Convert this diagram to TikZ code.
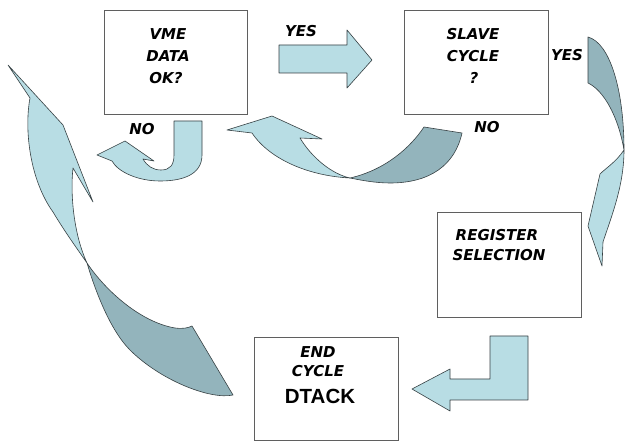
\documentclass[tikz,border=0pt]{standalone}
\usepackage{fontspec}
\newfontfamily\lblfont{DejaVu Sans}
\newfontfamily\dtfont{Liberation Sans}
\definecolor{lightteal}{RGB}{184,221,228}
\definecolor{darkteal}{RGB}{147,180,188}
\definecolor{edgecol}{RGB}{55,65,68}
\definecolor{boxline}{RGB}{95,95,95}
\tikzset{
  flowbox/.style={draw=boxline, line width=0.9pt, fill=white, inner sep=0pt},
  lbl/.style={font=\lblfont\bfseries\itshape\fontsize{15}{18}\selectfont, inner sep=0pt, text=black},
  bigl/.style={font=\dtfont\bfseries\fontsize{20.5}{24}\selectfont, inner sep=0pt, text=black},
  lightarr/.style={fill=lightteal, draw=edgecol, line width=0.6pt, line join=round},
  darkarr/.style={fill=darkteal, draw=edgecol, line width=0.6pt, line join=round}
}
\begin{document}
\begin{tikzpicture}[x=1pt,y=-1pt]
\useasboundingbox (0,0) rectangle (625,441);
\fill[white] (0,0) rectangle (625,441);

% boxes
\node[flowbox, minimum width=143pt, minimum height=104pt] (vme) at (175.5,62) {};
\node[flowbox, minimum width=144pt, minimum height=104pt] (slave) at (476,62) {};
\node[flowbox, minimum width=144pt, minimum height=105pt] (reg) at (509,264.5) {};
\node[flowbox, minimum width=144pt, minimum height=103pt] (endc) at (326,388.5) {};

% box texts
\node[lbl] (vme1) at (168,34) {VME};
\node[lbl] (vme2) at (168,56) {DATA};
\node[lbl] (vme3) at (166,78) {OK?};
\node[lbl] (sl1) at (473,34) {SLAVE};
\node[lbl] (sl2) at (473,56) {CYCLE};
\node[lbl] (sl3) at (474,78) {?};
\node[lbl] (rg1) at (497,235) {REGISTER};
\node[lbl] (rg2) at (499,255) {SELECTION};
\node[lbl] (ec1) at (318,352) {END};
\node[lbl] (ec2) at (318,371) {CYCLE};
\node[bigl] (ec3) at (320,396) {DTACK};

% branch labels
\node[lbl] (yes1) at (301,31) {YES};
\node[lbl] (yes2) at (567,55) {YES};
\node[lbl] (no1) at (487,127) {NO};
\node[lbl] (no2) at (142,129) {NO};

% straight arrow VME -> SLAVE
\draw[lightarr] (279,45) -- (347,45) -- (347,30) -- (372,60) -- (347,88) -- (347,73) -- (279,73) -- cycle;

% U-turn arrow (NO of VME)
\draw[lightarr] (174,121) -- (202,121) -- (202,155)
  .. controls (202,175) and (182,181) .. (160,181)
  .. controls (138,181) and (118,172) .. (112,161)
  -- (97,155) -- (125,141) -- (154,161) -- (143,159)
  .. controls (147,166) and (153,170) .. (161,170)
  .. controls (170,170) and (174,165) .. (174,155) -- cycle;

% curved arrow SLAVE NO -> VME
\draw[darkarr] (350,178) .. controls (385,170) and (410,148) .. (424,127)
  -- (462,133) .. controls (455,165) and (430,183) .. (390,183)
  .. controls (375,183) and (360,180) .. (350,178) -- cycle;
\draw[lightarr] (350,178) .. controls (310,176) and (270,160) .. (252,133)
  -- (227,130) -- (272,116) -- (322,139) -- (300,138)
  .. controls (312,158) and (332,174) .. (350,178) -- cycle;

% curved arrow SLAVE YES -> REGISTER
\draw[darkarr] (588,37) .. controls (610,43) and (624,90) .. (624,150)
  .. controls (618,115) and (603,90) .. (588,83) -- cycle;
\draw[lightarr] (624,150) .. controls (616,162) and (606,168) .. (600,174)
  -- (588,226) -- (602,266) -- (603,242)
  .. controls (612,215) and (624,185) .. (624,150) -- cycle;

% L arrow REGISTER -> END
\draw[lightarr] (490,336) -- (528,336) -- (528,400) -- (450,400) -- (450,411)
  -- (412,389) -- (450,369) -- (450,379) -- (490,379) -- cycle;

% big arrow END -> VME
\draw[darkarr] (87,263) .. controls (105,290) and (140,322) .. (175,328)
  .. controls (183,329) and (188,328) .. (192,326)
  -- (233,395) .. controls (210,400) and (160,380) .. (130,350)
  .. controls (110,330) and (95,290) .. (87,263) -- cycle;
\draw[lightarr] (87,263) .. controls (78,250) and (65,232) .. (53,212)
  .. controls (30,180) and (24,130) .. (30,98)
  -- (8,65) -- (63,125) -- (93,202) -- (73,168)
  .. controls (70,195) and (74,235) .. (87,263) -- cycle;
\end{tikzpicture}
\end{document}
